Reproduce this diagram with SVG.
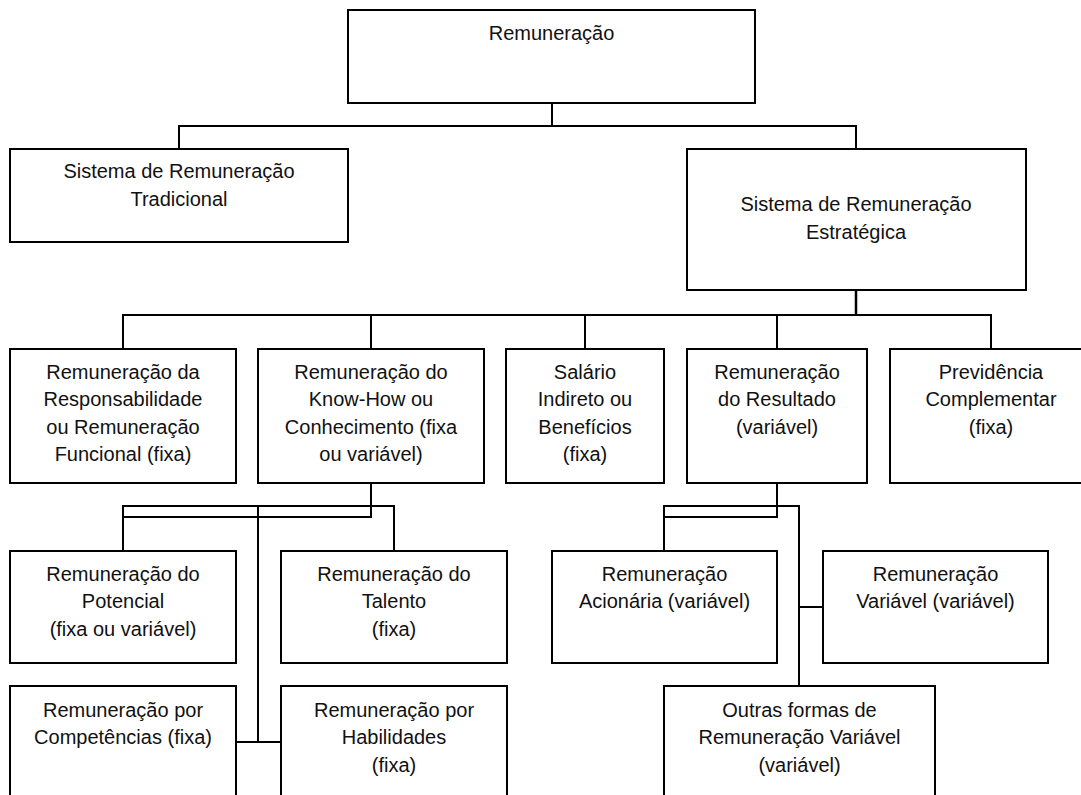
<svg xmlns="http://www.w3.org/2000/svg" width="1081" height="795" viewBox="0 0 1081 795">
<style>
.box{fill:#fff;stroke:#000;stroke-width:2}
.ln{fill:none;stroke:#000;stroke-width:2}
text{font-family:"Liberation Sans",Arial,sans-serif;font-size:20px;fill:#111;text-anchor:middle}
</style>
<rect width="1081" height="795" fill="#fff"/>
<g id="connectors">
<path class="ln" d="M552,103 V126 M179,149 V126 H856 V149"/>
<path class="ln" d="M856,290 V315" style="stroke-width:2.5"/>
<path class="ln" d="M123,349 V315 H991 V349 M371,315 V349 M585,315 V349 M777,315 V349"/>
<path class="ln" d="M371,483 V517 H123 M123,551 V506 H394 V551 M258,506 V742 M236,742 H281"/>
<path class="ln" d="M777,483 V517 H664 M664,551 V506 H799 V686 M799,607 H823"/>
</g>
<g id="n-root"><rect class="box" x="348" y="10" width="407" height="93"/><text x="551.5" y="40">Remuneração</text></g>
<g id="n-trad"><rect class="box" x="10" y="149" width="338" height="93"/><text x="179" y="178">Sistema de Remuneração</text><text x="179" y="205.5">Tradicional</text></g>
<g id="n-estr"><rect class="box" x="687" y="149" width="339" height="141"/><text x="856" y="211">Sistema de Remuneração</text><text x="856" y="238.5">Estratégica</text></g>
<g id="n-resp"><rect class="box" x="10" y="349" width="226" height="134"/><text x="123" y="378.5">Remuneração da</text><text x="123" y="406">Responsabilidade</text><text x="123" y="433.5">ou Remuneração</text><text x="123" y="461">Funcional (fixa)</text></g>
<g id="n-know"><rect class="box" x="258" y="349" width="226" height="134"/><text x="371" y="378.5">Remuneração do</text><text x="371" y="406">Know-How ou</text><text x="371" y="433.5">Conhecimento (fixa</text><text x="371" y="461">ou variável)</text></g>
<g id="n-sal"><rect class="box" x="506" y="349" width="158" height="134"/><text x="585" y="378.5">Salário</text><text x="585" y="406">Indireto ou</text><text x="585" y="433.5">Benefícios</text><text x="585" y="461">(fixa)</text></g>
<g id="n-res"><rect class="box" x="687" y="349" width="180" height="134"/><text x="777" y="378.5">Remuneração</text><text x="777" y="406">do Resultado</text><text x="777" y="433.5">(variável)</text></g>
<g id="n-prev"><rect class="box" x="890" y="349" width="203" height="134"/><text x="991" y="378.5">Previdência</text><text x="991" y="406">Complementar</text><text x="991" y="433.5">(fixa)</text></g>
<g id="n-pot"><rect class="box" x="10" y="551" width="226" height="112"/><text x="123" y="581">Remuneração do</text><text x="123" y="608">Potencial</text><text x="123" y="635.5">(fixa ou variável)</text></g>
<g id="n-tal"><rect class="box" x="281" y="551" width="226" height="112"/><text x="394" y="581">Remuneração do</text><text x="394" y="608">Talento</text><text x="394" y="635.5">(fixa)</text></g>
<g id="n-comp"><rect class="box" x="10" y="686" width="226" height="120"/><text x="123" y="716.5">Remuneração por</text><text x="123" y="744">Competências (fixa)</text></g>
<g id="n-hab"><rect class="box" x="281" y="686" width="226" height="120"/><text x="394" y="716.5">Remuneração por</text><text x="394" y="744">Habilidades</text><text x="394" y="771.5">(fixa)</text></g>
<g id="n-acio"><rect class="box" x="552" y="551" width="225" height="112"/><text x="664.5" y="581">Remuneração</text><text x="664.5" y="608">Acionária (variável)</text></g>
<g id="n-var"><rect class="box" x="823" y="551" width="225" height="112"/><text x="935.5" y="581">Remuneração</text><text x="935.5" y="608">Variável (variável)</text></g>
<g id="n-outras"><rect class="box" x="664" y="686" width="271" height="120"/><text x="799.5" y="716.5">Outras formas de</text><text x="799.5" y="744">Remuneração Variável</text><text x="799.5" y="771.5">(variável)</text></g>
</svg>
